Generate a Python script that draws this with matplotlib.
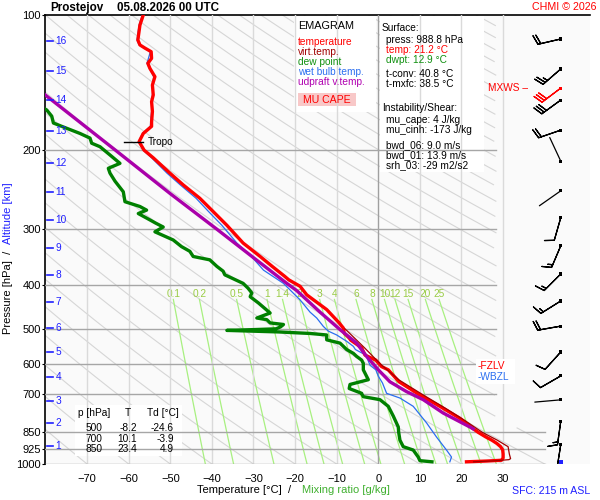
import numpy as np
import matplotlib
matplotlib.use('Agg')
import matplotlib.pyplot as plt
from matplotlib import transforms
from matplotlib.patches import Rectangle
from matplotlib.ticker import NullLocator, NullFormatter

plt.rcParams['font.family'] = ['Liberation Sans', 'DejaVu Sans']

# ---- sounding (pressure hPa, temperature degC) ----
t_p = [988.8, 985, 981, 970, 950, 930, 915, 900, 885, 870, 850, 837, 791, 744,
       702, 656, 617, 607, 587, 572, 551, 530, 524, 511, 498, 485, 453, 420,
       402, 389, 382, 363, 345, 322, 294, 274, 256, 239, 225, 208, 200, 191.5,
       183.6, 177, 173, 164, 156, 150.7, 143.2, 137.2, 131.5, 128.1, 124.9,
       120.7, 118.5, 116.6, 113.7, 105.3, 100]
t_c = [21.2, 26.0, 29.6, 30.0, 30.0, 29.9, 29.4, 28.5, 27.3, 25.8, 24.0, 23.0,
       19.6, 14.8, 10.0, 5.0, 2.4, 0.8, -0.6, -3.2, -4.0, -6.6, -7.0, -8.2,
       -8.4, -9.4, -12.4, -17.2, -18.8, -21.5, -22.5, -25.5, -28.4, -32.5,
       -36.4, -39.7, -42.9, -46.9, -50.1, -54.1, -56.3, -57.5, -56.5, -54.5,
       -54.5, -54.3, -54.5, -54.1, -54.3, -53.7, -54.9, -55.4, -54.5, -54.6,
       -56.1, -57.3, -57.8, -57.3, -56.5]

tv_p = [988.8, 984, 978, 973, 950, 915, 885, 850, 800, 750, 700, 650, 600,
        550, 500]
tv_c = [22.9, 27.8, 31.4, 31.8, 31.5, 31.2, 28.6, 25.0, 20.8, 16.0, 10.6,
        5.0, 0.6, -3.4, -8.0]

td_p = [988.8, 983, 965, 931, 915, 885, 850, 827, 782, 744, 719, 708, 700,
        696, 679, 665, 649, 617, 597, 587, 576, 567, 556, 538, 529, 516, 512,
        508, 504, 502, 500, 495, 489, 485, 477, 473, 461, 438, 424, 416, 406,
        396, 379, 372, 363, 351, 345, 336, 328, 317, 304, 296.6, 290.8, 286,
        276.8, 272, 267, 260.5, 247.6, 234.4, 225, 219.5, 214, 205, 196.5,
        193, 188, 183.6, 177, 174, 168, 162.8, 158]
td_c = [12.9, 10.0, 9.6, 8.4, 6.0, 5.2, 4.9, 4.8, 3.6, 2.4, 0.4, -3.6, -3.9,
        -4.0, -7.0, -6.8, -2.4, -3.6, -3.6, -4.0, -5.2, -6.0, -7.6, -9.2,
        -12.4, -12.4, -16.4, -24.0, -36.4, -30.0, -24.6, -23.5, -22.8, -26.0,
        -26.8, -29.2, -26.0, -28.8, -30.8, -30.4, -31.3, -32.5, -36.9, -37.3,
        -38.8, -40.5, -44.5, -45.3, -47.3, -49.3, -53.7, -51.7, -53.5, -54.9,
        -57.7, -55.7, -57.3, -60.9, -61.3, -63.3, -64.5, -64.9, -62.1, -64.5,
        -66.9, -68.9, -69.3, -71.7, -76.1, -78.1, -78.5, -79.7, -82.0]

tw_p = [988.8, 965, 931, 871, 810, 744, 713, 696, 660, 637, 617, 602, 572,
        556, 547, 533, 516, 506, 494, 473, 459, 431, 396, 370, 345, 322, 294,
        274, 256, 239, 225, 208, 200, 191.5, 183.6, 177, 164, 150.7, 137.2,
        128.1, 120.7, 116.6, 113.7, 105.3, 100]
tw_c = [17.2, 17.6, 16.4, 14.0, 11.6, 8.4, 5.2, 2.0, 1.0, 0.0, -0.6, -2.0,
        -3.0, -5.5, -6.0, -7.6, -10.0, -12.0, -13.2, -14.8, -16.4, -18.8,
        -22.8, -27.6, -30.5, -34.0, -37.6, -40.8, -43.8, -47.6, -50.8, -54.5,
        -56.5, -57.6, -56.7, -54.8, -54.5, -54.3, -54.0, -55.6, -54.8, -57.5,
        -58.0, -57.5, -56.7]

pcl_p = [835, 827, 770, 719, 690, 656, 617, 576, 538, 502, 459, 411, 396,
         350, 300, 250, 200, 150.6, 145]
pcl_c = [22.8, 22.0, 15.6, 10.8, 6.8, 2.8, 0.0, -2.8, -5.2, -9.2, -14.0,
         -19.6, -22.0, -29.5, -38.8, -50.0, -63.2, -80.1, -82.0]

tropo_p = 191.5
tropo_t = -57.5

# altitude scale (km) and the pressure at which each mark sits
alt_km = list(range(1, 17))
alt_p = [912, 810, 724, 640, 563, 498, 436, 379, 330, 286, 248, 214, 181,
         155, 133, 114]

# wind barbs
wind_p = [113.1, 131.9, 145.5, 154.7, 180.5, 211.5, 246.4, 283.0, 326.8,
          377.4, 433.5, 493.1, 563.1, 636.6, 719.6, 804.8, 906.4]
wind_dir = [257, 229, 233, 234, 251, 335, 235, 196, 203, 225, 238, 260, 222,
            240, 265, 188, 189]
wind_spd = [20, 25, 30, 30, 20, 3, 3, 10, 15, 15, 15, 20, 10, 10, 3, 15, 20]
mxws_idx = 2
sfc_p = 988.8

p_ticks = [100, 200, 300, 400, 500, 600, 700, 850, 925, 1000]
t_ticks = list(range(-70, 31, 10))
mix_w = [0.1, 0.2, 0.5, 1, 1.4, 2, 3, 4, 6, 8, 10, 12, 15, 20, 25]
theta_c = list(range(-80, 330, 10))

table_rows = [('500', '-8.2', '-24.6'), ('700', '10.1', '-3.9'),
              ('850', '23.4', '4.9')]
surface_lines = [('press: 988.8 hPa', 'black'), ('temp: 21.2 °C', '#ff0000'),
                 ('dwpt: 12.9 °C', '#109010')]
conv_lines = ['t-conv: 40.8 °C', 't-mxfc: 38.5 °C']
inst_lines = ['mu_cape: 4 J/kg', 'mu_cinh: -173 J/kg']
shear_lines = ['bwd_06: 9.0 m/s', 'bwd_01: 13.9 m/s', 'srh_03: -29 m2/s2']
legend_items = [('temperature', '#ff0000'), ('virt.temp.', '#a00000'),
                ('dew point', '#109010'), ('wet bulb temp.', '#2a6ef0'),
                ('udpraft v.temp.', '#b000b0')]

FS = 7.3
W, H = 600, 500
AX_L, AX_R, AX_T, AX_B = 45, 590, 15, 464

fig = plt.figure(figsize=(6, 5), dpi=100)
ax = fig.add_axes([AX_L / W, 1 - AX_B / H, (AX_R - AX_L) / W, (AX_B - AX_T) / H])
ax.set_facecolor('#fafafa')
ax.set_yscale('log')
ax.set_ylim(1000, 100)
ax.set_xlim(-80.12, 50.89)


def axf(px, py):
  # figure pixel -> axes fraction
  return (px - AX_L) / (AX_R - AX_L), (AX_B - py) / (AX_B - AX_T)


def figt(px, py, s, **kw):
  return fig.text(px / W, 1 - py / H, s, **kw)


for s in ['right', 'bottom']:
  ax.spines[s].set_visible(False)
ax.spines['left'].set_linewidth(1.2)
ax.spines['top'].set_linewidth(1.2)

ax.set_yticks(p_ticks)
ax.set_yticklabels([str(p) for p in p_ticks])
ax.yaxis.set_minor_locator(NullLocator())
ax.yaxis.set_minor_formatter(NullFormatter())
ax.set_xticks(t_ticks)
ax.tick_params(axis='x', length=0, pad=7, labelsize=8)
ax.tick_params(axis='y', length=2, pad=1, labelsize=8)

# background grid
t_edge_hi = 28.3
t_edge_lo = 40.0
for t in t_ticks:
  ax.plot([t, t], [1000, 100], color='#a0a0a0' if t == 0 else '#dadada',
          lw=1.0, zorder=3)
for p in p_ticks[1:]:
  ax.plot([-80.12, t_edge_lo if p >= 850 else t_edge_hi], [p, p],
          color='#a6a6a6', lw=1.0, zorder=3)

pp = np.geomspace(100, 1000, 300)
for th in theta_c:
  tt = (th + 273.15) * (pp / 1000.0) ** 0.286 - 273.15
  tt = np.where(((tt > t_edge_hi) & (pp < 830)) | (tt > t_edge_lo), np.nan, tt)
  ax.plot(tt, pp, color='#d6d6d6', lw=0.8, zorder=1)

pm = np.geomspace(430, 1000, 100)
for w in mix_w:
  lg = np.log(w * pm / (622.0 + w) / 6.112)
  tm = 243.5 * lg / (17.67 - lg)
  ax.plot(tm, pm, color='#a8f080', lw=0.9, zorder=1.5)
  ax.text(tm[0], 418, ('%g' % w), color='#99cc44', fontsize=FS,
          ha='center', va='center', zorder=1.6)

# boxes
def box(x0, y0, x1, y1, fc, z=2):
  a0 = axf(x0, y1)
  a1 = axf(x1, y0)
  ax.add_patch(Rectangle(a0, a1[0] - a0[0], a1[1] - a0[1], transform=ax.transAxes,
                         facecolor=fc, edgecolor='none', zorder=z))

box(294, 16, 376, 112, 'white')
box(380, 16, 484, 172, 'white')
box(75, 405, 182, 456, 'white')
box(476, 359, 515, 384, 'white', z=7)
box(298, 93, 356, 106, '#f8c8c8', z=2.5)

# profiles
ax.plot(td_c, td_p, color='#008000', lw=2.4, zorder=5)
ax.plot(tw_c, tw_p, color='#2a6ef0', lw=0.9, zorder=5.5)
ax.plot(t_c, t_p, color='#ff0000', lw=2.4, zorder=6)
ax.plot(tv_c, tv_p, color='#a00000', lw=0.9, zorder=6.2)
ax.plot(pcl_c, pcl_p, color='#aa00aa', lw=2.4, zorder=6.5)

ax.plot([tropo_t - 3.6, tropo_t + 0.9], [tropo_p, tropo_p], color='black', lw=1, zorder=7)
ax.text(tropo_t + 2.0, tropo_p, 'Tropo', fontsize=FS, va='center', ha='left', zorder=7)

# altitude scale
blend = transforms.blended_transform_factory(ax.transAxes, ax.transData)
for km, p in zip(alt_km, alt_p):
  ax.plot([0.004, 0.015], [p, p], transform=blend, color='#2020ff', lw=1.2, zorder=7)
  ax.text(0.019, p, str(km), transform=blend, color='#2020ff', fontsize=FS,
          va='center', ha='left', zorder=7)

# wind barbs
bx = 43.85
wd = np.radians(wind_dir)
ws = np.array(wind_spd, float)
u = -ws * np.sin(wd)
v = -ws * np.cos(wd)
cols = np.array(['red' if i == mxws_idx else 'black' for i in range(len(wind_p))])
strong = ws >= 5
ax.barbs(np.full(strong.sum(), bx), np.array(wind_p)[strong], u[strong], v[strong],
         color=cols[strong], length=5.8, linewidth=0.9, pivot='tip', zorder=8)
for i in np.where(~strong)[0]:
  # light winds: bare staff only
  ax.annotate('', xy=(bx, wind_p[i]), xytext=(26 * np.sin(wd[i]), 26 * np.cos(wd[i])),
              textcoords='offset pixels', zorder=8,
              arrowprops=dict(arrowstyle='-', color='black', lw=0.9, shrinkA=0, shrinkB=0))
ax.scatter([bx] * len(wind_p), wind_p, marker='s', s=5, c=list(cols), zorder=9, linewidths=0)
ax.scatter([bx], [sfc_p], marker='s', s=5, c='#2020ff', zorder=9, linewidths=0)
ax.text(bx - 7.9, wind_p[mxws_idx], 'MXWS \u2013', color='red', fontsize=FS,
        ha='right', va='center', zorder=8)

# freezing / wet-bulb zero
figt(478, 366, '-FZLV', color='#ff0000', fontsize=FS, va='center', ha='left', zorder=9)
figt(478, 377, '-WBZL', color='#2a6ef0', fontsize=FS, va='center', ha='left', zorder=9)

# legend
figt(298, 26, 'EMAGRAM', fontsize=7.8, va='center')
for i, (s, c) in enumerate(legend_items):
  figt(298, 42 + 10 * i, s, color=c, fontsize=FS, va='center')
figt(327, 100, 'MU CAPE', color='#ff0000', fontsize=7.6, va='center', ha='center')

# info box
figt(382, 28, 'Surface:', fontsize=FS, va='center')
for i, (s, c) in enumerate(surface_lines):
  figt(386, 40 + 10 * i, s, color=c, fontsize=FS, va='center')
for i, s in enumerate(conv_lines):
  figt(386, 74 + 10 * i, s, fontsize=FS, va='center')
figt(382, 108, 'Instability/Shear:', fontsize=FS, va='center')
for i, s in enumerate(inst_lines):
  figt(386, 120 + 10 * i, s, fontsize=FS, va='center')
for i, s in enumerate(shear_lines):
  figt(386, 145 + 10 * i, s, fontsize=FS, va='center')

# table
figt(78, 413, 'p [hPa]', fontsize=FS, va='center')
figt(128, 413, 'T', fontsize=FS, va='center', ha='center')
figt(147, 413, 'Td [°C]', fontsize=FS, va='center')
for i, (a, b, c) in enumerate(table_rows):
  y = 428 + 10.5 * i
  figt(102, y, a, fontsize=FS, va='center', ha='right')
  figt(137, y, b, fontsize=FS, va='center', ha='right')
  figt(174, y, c, fontsize=FS, va='center', ha='right')

# titles and axis labels
figt(50, 8, 'Prostejov', fontsize=8.4, fontweight='bold', va='center')
figt(117, 8, '05.08.2026 00 UTC', fontsize=8.4, fontweight='bold', va='center')
figt(596, 7, 'CHMI © 2026', fontsize=7.7, color='#ff0000', va='center', ha='right')
figt(291, 490, 'Temperature [°C]  /', fontsize=8, va='center', ha='right')
figt(302, 490, 'Mixing ratio [g/kg]', fontsize=8, color='#40b030', va='center', ha='left')
figt(590, 491, 'SFC: 215 m ASL', fontsize=7.6, color='#2020ff', va='center', ha='right')
figt(8, 334, 'Pressure [hPa]  /', fontsize=8, rotation=90, va='bottom', ha='center')
figt(8, 244, 'Altitude [km]', fontsize=8, color='#2020ff', rotation=90, va='bottom', ha='center')

fig.savefig('out.png', dpi=100)
